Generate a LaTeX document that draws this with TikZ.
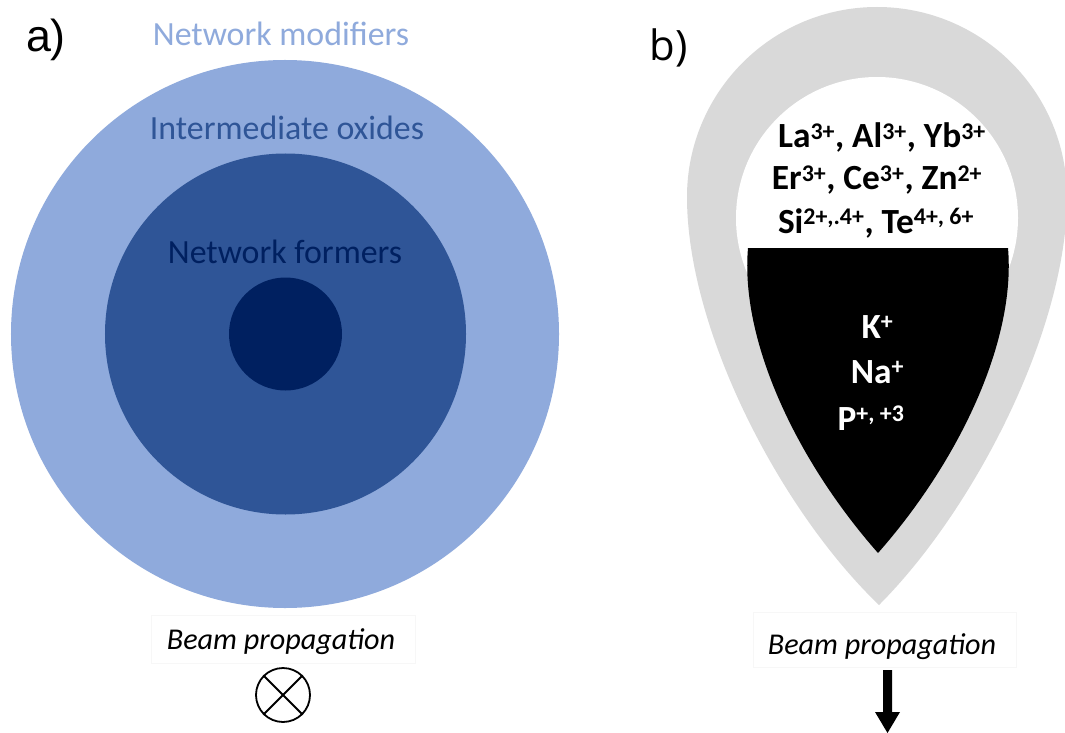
\documentclass[tikz,border=0pt]{standalone}
\usepackage{fontspec}
\usetikzlibrary{calc}
\newfontfamily\calibri{Carlito}
\newfontfamily\arialf{Liberation Sans}
\newfontfamily\segoef{Open Sans}
\definecolor{modblue}{HTML}{8FAADC}
\definecolor{intblue}{HTML}{2F5597}
\definecolor{formblue}{HTML}{002060}
\definecolor{shellgray}{HTML}{D9D9D9}
\newcommand\ionsup[1]{\textsuperscript{\fontsize{24}{24}\selectfont #1}}
\begin{document}
\begin{tikzpicture}[x=1bp,y=1bp,
  disc/.style={circle,inner sep=0pt,draw=none},
  lbl/.style={inner sep=0pt,anchor=base,font=\calibri\fontsize{34}{40}\selectfont},
  ion/.style={inner sep=0pt,anchor=base,font=\calibri\bfseries\fontsize{35.5}{40}\selectfont},
  beam/.style={inner sep=0pt,anchor=base,font=\calibri\itshape\fontsize{30.3}{34}\selectfont},
  faintbox/.style={draw=black!3,line width=0.8bp}]
\clip (0,0) rectangle (1065,-733);
\fill[white] (0,0) rectangle (1065,-733);
% ---------- panel a ----------
\node[inner sep=0pt,anchor=base,font=\arialf\fontsize{45}{50}\selectfont] (la) at (46,-52) {a)};
\node[disc,fill=modblue,minimum size=548bp] (outer) at (285,-334) {};
\node[disc,fill=intblue,minimum size=361bp] (middle) at (285.5,-334) {};
\node[disc,fill=formblue,minimum size=113bp] (inner) at (285.5,-334) {};
\node[lbl,text=modblue] (tmod) at (281,-46) {Network modifiers};
\node[lbl,text=intblue] (tint) at (287,-140) {Intermediate oxides};
\node[lbl,text=formblue] (tform) at (285,-263) {Network formers};
\draw[faintbox] (151,-615) rectangle (415,-663);
\node[beam] (beama) at (281,-649) {Beam propagation};
\node[disc,draw=black,line width=1.8bp,minimum size=54bp] (into) at (283,-695) {};
\draw[line width=1.8bp] (into.north west) -- (into.south east);
\draw[line width=1.8bp] (into.north east) -- (into.south west);
% ---------- panel b ----------
\node[inner sep=0pt,anchor=base,font=\segoef\fontsize{42}{48}\selectfont] (lb) at (669,-61) {b)};
\fill[shellgray] (879,-605) .. controls (780,-510) and (687,-330) .. (687,-197)
  arc[start angle=180,end angle=0,radius=190]
  .. controls (1067,-330) and (974,-510) .. (879,-605) -- cycle;
\fill[white] (877,-218) circle[radius=141];
\fill[black] (748,-248) -- (1008,-248) .. controls (1016,-340) and (960,-460) .. (878,-553)
  .. controls (796,-460) and (740,-340) .. (748,-248) -- cycle;
\node[ion] (l1) at (882,-148) {La\ionsup{3+}, Al\ionsup{3+}, Yb\ionsup{3+}};
\node[ion] (l2) at (877,-190) {Er\ionsup{3+}, Ce\ionsup{3+}, Zn\ionsup{2+}};
\node[ion] (l3) at (876,-233) {Si\ionsup{2+,.4+}, Te\ionsup{4+, 6+}};
\node[ion,text=white] (k) at (877.5,-338) {K\ionsup{+}};
\node[ion,text=white] (na) at (877.5,-383) {Na\ionsup{+}};
\node[ion,text=white] (p) at (871,-430) {P\ionsup{+, +3}};
\draw[faintbox] (753,-612) rectangle (1016,-667);
\node[beam] (beamb) at (882,-654) {Beam propagation};
\coordinate (arrtop) at (887.5,-670);
\coordinate (arrtip) at (887.5,-733);
\fill[black] ($(arrtop)+(-4.5,0)$) -- ($(arrtop)+(4.5,0)$) -- (892,-712) -- (900,-712) -- (arrtip) -- (875,-712) -- (883,-712) -- cycle;
\end{tikzpicture}
\end{document}
